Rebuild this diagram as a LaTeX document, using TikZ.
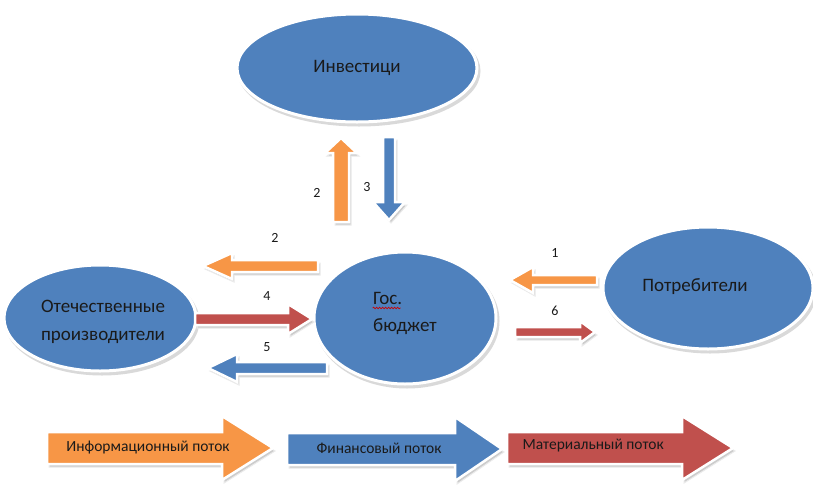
\documentclass[tikz,border=0pt]{standalone}
\usepackage{fontspec}
\setmainfont{Carlito}
\usetikzlibrary{shapes.geometric,decorations.pathmorphing}
\definecolor{obl}{HTML}{4F81BD}
\definecolor{oor}{HTML}{F79646}
\definecolor{ore}{HTML}{C0504D}
\definecolor{txt}{HTML}{1A1A1A}
\tikzset{
  oval/.style={ellipse, fill=obl, draw=white, line width=3pt, text=txt, font=\fontsize{19}{26}\selectfont, align=center},
  ovalshadow/.style={ellipse, fill=black!15, draw=black!15, line width=3pt},
  arrowbody/.style={draw=white, line width=2.5pt, line join=miter},
  arrowshadow/.style={fill=black!20, draw=black!8, line width=1pt},
  numlabel/.style={font=\fontsize{14}{16}\selectfont, text=txt},
  legendtext/.style={font=\fontsize{15.5}{18}\selectfont, text=txt}
}
% horizontal block arrow: tail x, head base x, tip x, y, shaft half, head half, colour
\newcommand\harr[7]{%
  \filldraw[arrowshadow, shift={(2,3)}] (#1,#4-#5) -- (#2,#4-#5) -- (#2,#4-#6) -- (#3,#4) -- (#2,#4+#6) -- (#2,#4+#5) -- (#1,#4+#5) -- cycle;
  \filldraw[arrowbody, fill=#7] (#1,#4-#5) -- (#2,#4-#5) -- (#2,#4-#6) -- (#3,#4) -- (#2,#4+#6) -- (#2,#4+#5) -- (#1,#4+#5) -- cycle;}
% vertical block arrow: tail y, head base y, tip y, x, shaft half, head half, colour
\newcommand\varr[7]{%
  \filldraw[arrowshadow, shift={(2,3)}] (#4-#5,#1) -- (#4-#5,#2) -- (#4-#6,#2) -- (#4,#3) -- (#4+#6,#2) -- (#4+#5,#2) -- (#4+#5,#1) -- cycle;
  \filldraw[arrowbody, fill=#7] (#4-#5,#1) -- (#4-#5,#2) -- (#4-#6,#2) -- (#4,#3) -- (#4+#6,#2) -- (#4+#5,#2) -- (#4+#5,#1) -- cycle;}
\begin{document}
\begin{tikzpicture}[x=1pt,y=-1pt]
\useasboundingbox[fill=white] (0,0) rectangle (813,485);

% ellipses
\node[ovalshadow, minimum width=240pt, minimum height=108pt] at (359,71) {};
\node[oval, minimum width=240pt, minimum height=108pt] (inv) at (357,68) {Инвестици};
\node[ovalshadow, minimum width=182pt, minimum height=132pt] at (407,321) {};
\node[oval, minimum width=182pt, minimum height=132pt] (bud) at (405,318) {};
\node[text=txt, font=\fontsize{19}{27}\selectfont, align=left] (budtext) at (405,313) {Гос.\\бюджет};
\coordinate (ul) at ([xshift=3pt,yshift=5pt]budtext.west);
\draw[red!80!black, line width=0.7pt, decorate, decoration={snake, amplitude=0.8pt, segment length=3pt}]
  (ul) -- ++(28,0);
\node[ovalshadow, minimum width=192pt, minimum height=106pt] at (102,321) {};
\node[oval, minimum width=192pt, minimum height=106pt] (otech) at (100,318) {};
\node[text=txt, font=\fontsize{19}{28}\selectfont, align=center] (otechtext) at (103,322) {Отечественные\\производители};
\node[ovalshadow, minimum width=210pt, minimum height=122pt] at (710,291) {};
\node[oval, minimum width=210pt, minimum height=122pt] (potr) at (708,288) {};
\node[text=txt, font=\fontsize{19}{26}\selectfont] (potrtext) at (695,287) {Потребители};

% vertical arrows
\varr{222}{153}{138}{341}{8}{16}{oor}
\varr{137}{202}{220}{389}{6}{16}{obl}
\node[numlabel] (n2a) at (317,193) {2};
\node[numlabel] (n3) at (367,187) {3};

% left side arrows
\harr{318}{232}{203}{266}{6}{13}{oor}
\node[numlabel] (n2b) at (275,238) {2};
\harr{195}{288}{312}{319}{6}{15}{ore}
\node[numlabel] (n4) at (267,296) {4};
\harr{327}{237}{208}{368}{6}{14}{obl}
\node[numlabel] (n5) at (267,347) {5};

% right side arrows
\harr{597}{533}{510}{280}{5}{13}{oor}
\node[numlabel] (n1) at (555,253) {1};
\harr{515}{580}{595}{332}{5}{11}{ore}
\node[numlabel] (n6) at (555,311) {6};

% legend
\harr{47}{222}{273}{448}{16}{32}{oor}
\node[legendtext] (l1) at (148,448) {Информационный поток};
\harr{287}{455}{502}{449}{16}{32}{obl}
\node[legendtext] (l2) at (379,448) {Финансовый поток};
\harr{507}{682}{733}{448}{16}{32}{ore}
\node[legendtext, anchor=west] (l3) at (519,446) {Материальный поток};
\end{tikzpicture}
\end{document}
